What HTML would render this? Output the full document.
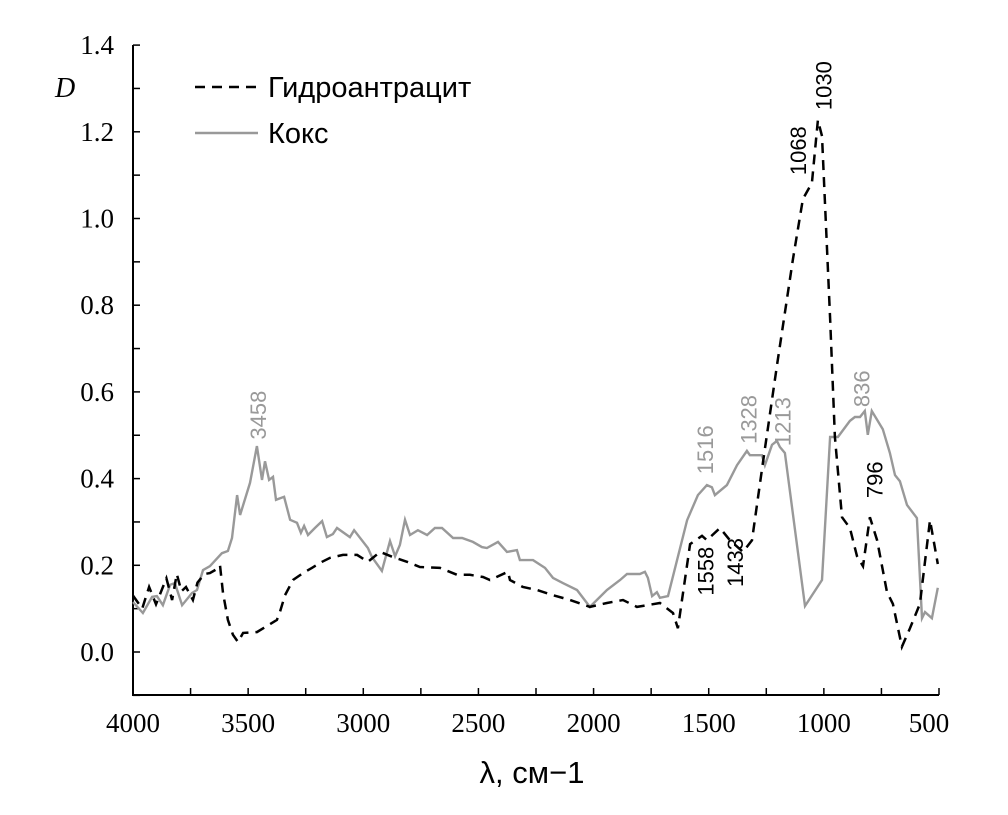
<!DOCTYPE html>
<html><head><meta charset="utf-8"><style>
body{margin:0;background:#fff;width:1008px;height:815px;overflow:hidden}
svg{display:block}
</style></head><body>
<svg id="chart" width="1008" height="815" xmlns="http://www.w3.org/2000/svg"></svg>
<script>
const xTicks=[4000,3500,3000,2500,2000,1500,1000,500];
const yTicks=[0.0,0.2,0.4,0.6,0.8,1.0,1.2,1.4];
const cokeWn=[4000,3957,3917,3896,3870,3839,3818,3787,3744,3722,3696,3666,3614,3588,3570,3548,3535,3492,3462,3440,3427,3409,3392,3379,3344,3318,3288,3271,3257,3240,3210,3179,3158,3132,3114,3058,3040,2980,2962,2919,2884,2862,2841,2819,2797,2763,2723,2689,2658,2610,2571,2524,2485,2463,2415,2376,2333,2320,2263,2211,2176,2133,2072,2016,1942,1885,1855,1799,1777,1764,1746,1725,1712,1677,1594,1547,1508,1486,1473,1421,1377,1334,1321,1269,1256,1225,1204,1191,1169,1082,1008,973,939,887,865,843,822,809,792,744,713,691,670,639,596,574,561,531,505];
const cokeD=[0.115,0.09,0.127,0.129,0.108,0.155,0.159,0.108,0.136,0.143,0.189,0.198,0.228,0.233,0.263,0.362,0.316,0.39,0.475,0.397,0.44,0.397,0.404,0.351,0.358,0.305,0.298,0.275,0.291,0.27,0.286,0.302,0.265,0.272,0.286,0.265,0.281,0.24,0.219,0.187,0.256,0.221,0.247,0.305,0.27,0.281,0.27,0.286,0.286,0.263,0.263,0.254,0.242,0.24,0.254,0.231,0.235,0.212,0.212,0.194,0.171,0.159,0.143,0.104,0.143,0.166,0.18,0.18,0.185,0.171,0.129,0.138,0.125,0.129,0.304,0.362,0.385,0.38,0.362,0.385,0.431,0.464,0.454,0.454,0.431,0.478,0.487,0.473,0.459,0.106,0.166,0.496,0.496,0.533,0.542,0.542,0.556,0.501,0.556,0.514,0.459,0.408,0.394,0.339,0.309,0.078,0.092,0.078,0.148];
const hydroWn=[4000,3960,3930,3900,3870,3855,3830,3810,3790,3770,3740,3720,3690,3666,3640,3622,3609,3588,3566,3544,3522,3462,3375,3362,3340,3305,3262,3223,3179,3145,3088,3027,2980,2927,2871,2810,2754,2667,2593,2537,2480,2450,2372,2363,2307,2246,2176,2102,2016,1942,1872,1812,1768,1712,1655,1634,1581,1529,1508,1451,1408,1351,1312,1264,1204,1134,1091,1052,1026,1008,973,952,921,887,856,830,800,769,726,700,661,626,583,539,505];
const hydroD=[0.13,0.10,0.15,0.11,0.15,0.17,0.12,0.18,0.14,0.15,0.12,0.16,0.18,0.182,0.19,0.2,0.136,0.074,0.04,0.023,0.044,0.046,0.074,0.092,0.131,0.166,0.182,0.194,0.208,0.217,0.224,0.224,0.208,0.231,0.219,0.208,0.196,0.194,0.178,0.178,0.173,0.166,0.185,0.166,0.15,0.143,0.131,0.12,0.104,0.113,0.12,0.104,0.108,0.113,0.09,0.055,0.249,0.268,0.258,0.286,0.258,0.231,0.258,0.44,0.66,0.907,1.045,1.082,1.227,1.19,0.77,0.496,0.311,0.286,0.221,0.198,0.311,0.258,0.138,0.111,0.012,0.055,0.111,0.304,0.203];
const cokeLabels=["3458","1516","1328","1213","836"];
const cokeLabelWn=[3458,1516,1328,1180,836];
const cokeLabelD=[0.49,0.41,0.48,0.475,0.565];
const hydroLabels=["1558","1433","796","1068","1030"];
const hydroLabelWn=[1515,1385,780,1112,1002];
const hydroLabelD=[0.13,0.15,0.355,1.10,1.25];

const NS="http://www.w3.org/2000/svg";
const svg=document.getElementById('chart');
const X0=133,X1=939,Y0=652,PX=433.5;
const xs=w=>X0+(4000-w)*(X1-X0)/3500;
const ys=d=>Y0-d*PX;
function mk(tag,attrs,parent){const e=document.createElementNS(NS,tag);for(const k in attrs)e.setAttribute(k,attrs[k]);(parent||svg).appendChild(e);return e;}

const ax=mk('path',{d:`M${X0},45 V695 H${X1}`,stroke:'#000','stroke-width':2,fill:'none'});


for(let v=-0.1;v<=1.41;v+=0.1){const y=ys(v);const t=mk('line',{x1:X0,x2:X0+7,y1:y,y2:y,stroke:'#000','stroke-width':1.5});

}
for(let w=3750;w>=500;w-=250){const x=xs(w);const t=mk('line',{x1:x,x2:x,y1:695,y2:688,stroke:'#000','stroke-width':1.5});

}
yTicks.forEach(v=>{const t=mk('text',{x:114,y:ys(v)+9,'text-anchor':'end','font-family':'Liberation Serif, serif','font-size':27});t.textContent=v.toFixed(1);

});
xTicks.forEach(w=>{const t=mk('text',{x:xs(w)-(w===500?10:0),y:732,'text-anchor':'middle','font-family':'Liberation Serif, serif','font-size':27});t.textContent=w;

});
const yt=mk('text',{x:55,y:97,'font-family':'Liberation Serif, serif','font-style':'italic','font-size':28});yt.textContent='D';


const xt=mk('text',{x:532,y:783,'text-anchor':'middle','font-family':'Liberation Sans, DejaVu Sans, sans-serif','font-size':31});xt.textContent='λ, см−1';



function line(wn,d,attrs,name){const p=wn.map((w,i)=>(i?'L':'M')+xs(w).toFixed(1)+','+ys(d[i]).toFixed(1)).join(' ');const e=mk('path',Object.assign({d:p,fill:'none'},attrs));

}
line(cokeWn,cokeD,{stroke:'#999','stroke-width':2.4},'coke-series');
line(hydroWn,hydroD,{stroke:'#000','stroke-width':2.5,'stroke-dasharray':'10,7'},'hydroanthracite-series');

function labels(txt,wn,d,color,name){txt.forEach((s,i)=>{const x=xs(wn[i]),y=ys(d[i]);const t=mk('text',{x:0,y:0,transform:`translate(${x+8},${y}) rotate(-90)`,'font-family':'Liberation Sans, sans-serif','font-size':22,fill:color});t.textContent=s;

});}
labels(cokeLabels,cokeLabelWn,cokeLabelD,'#999','coke-peak-label');
labels(hydroLabels,hydroLabelWn,hydroLabelD,'#000','hydroanthracite-peak-label');

const l1=mk('line',{x1:195,x2:258,y1:87,y2:87,stroke:'#000','stroke-width':2.5,'stroke-dasharray':'10,7'});


const t1=mk('text',{x:268,y:97,'font-family':'Liberation Sans, sans-serif','font-size':29});t1.textContent='Гидроантрацит';


const l2=mk('line',{x1:195,x2:258,y1:133,y2:133,stroke:'#999','stroke-width':2.4});


const t2=mk('text',{x:268,y:143,'font-family':'Liberation Sans, sans-serif','font-size':29});t2.textContent='Кокс';


</script>
</body></html>
